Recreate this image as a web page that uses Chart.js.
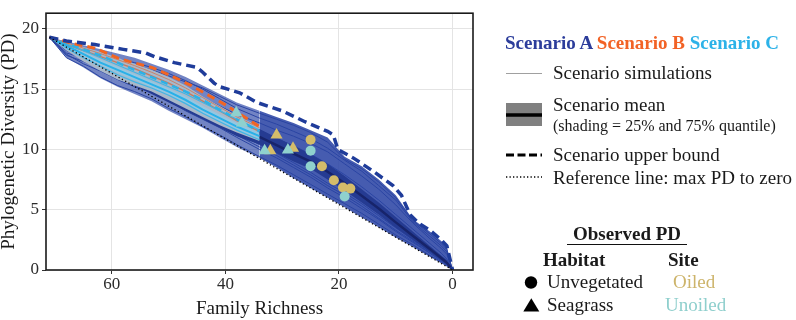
<!DOCTYPE html>
<html>
<head>
<meta charset="utf-8">
<script src="https://cdn.jsdelivr.net/npm/chart.js@4.4.0/dist/chart.umd.min.js"></script>
<style>
  body { margin: 0; background: #fff; }
  #wrap { position: relative; width: 796px; height: 320px; font-family: "Liberation Serif", "DejaVu Serif", serif; color: #1a1a1a; }
  #chart { position: absolute; left: 0; top: 0; }
  #keys { position: absolute; left: 0; top: 0; }
  .lg { position: absolute; font-size: 19px; line-height: 22px; white-space: nowrap; }
  .b { font-weight: bold; }
</style>
</head>
<body>
<div id="wrap">
  <canvas id="chart" width="480" height="320"></canvas>

  <svg id="keys" width="796" height="320">
    <line x1="506" y1="73.5" x2="542" y2="73.5" stroke="#a0a0a0" stroke-width="1"/>
    <rect x="506" y="103" width="36" height="23" fill="#808080"/>
    <line x1="506" y1="115" x2="542" y2="115" stroke="#000" stroke-width="3.5"/>
    <line x1="506" y1="155" x2="542" y2="155" stroke="#000" stroke-width="3" stroke-dasharray="8,3.5"/>
    <line x1="506" y1="177" x2="542" y2="177" stroke="#000" stroke-width="1.3" stroke-dasharray="1.3,2.2"/>
    <circle cx="531" cy="282.5" r="6.2" fill="#000"/>
    <polygon points="523.3,311.5 539.3,311.5 531.3,298.3" fill="#000"/>
  </svg>

  <div class="lg b" style="left:505px;top:32px">
    <span style="color:#2c3d9b">Scenario A</span> <span style="color:#f26225">Scenario B</span> <span style="color:#2cb2e8">Scenario C</span>
  </div>
  <div class="lg" style="left:553px;top:62px">Scenario simulations</div>
  <div class="lg" style="left:553px;top:94px">Scenario mean</div>
  <div class="lg" style="left:553px;top:115px;font-size:16px">(shading = 25% and 75% quantile)</div>
  <div class="lg" style="left:553px;top:144px">Scenario upper bound</div>
  <div class="lg" style="left:553px;top:167px">Reference line: max PD to zero</div>

  <div class="lg b" style="left:567px;top:224px;width:120px;height:20px;line-height:20px;text-align:center;border-bottom:1.5px solid #111">Observed PD</div>
  <div class="lg b" style="left:543px;top:249px">Habitat</div>
  <div class="lg b" style="left:668px;top:249px">Site</div>
  <div class="lg" style="left:547px;top:271px">Unvegetated</div>
  <div class="lg" style="left:673px;top:271px;color:#cdb46b">Oiled</div>
  <div class="lg" style="left:547px;top:294px">Seagrass</div>
  <div class="lg" style="left:665px;top:294px;color:#8fcfcd">Unoiled</div>
</div>

<script>
// family richness steps for the simulated curves
const richness = [71,68,65,62,59,56,53,50,47,44,41,38,34,31,28,25,22,19,16,13,10,7,4,2,1,0];
// scenarios B and C stop at 34 families
const richnessBC = richness.slice(0, 13);

// Scenario A
const simHiA = [19.3,18.95,18.65,18.3,17.95,17.6,17.1,16.6,16.0,15.3,14.6,13.9,13.2,12.7,12.2,11.6,11.0,9.4,8.6,7.5,6.2,4.2,3.2,2.4,1.9,0];
const simLoA = [19.3,17.6,16.8,15.9,15.2,14.6,14.0,13.2,12.5,11.8,11.0,10.2,9.3,8.5,7.6,6.8,6.0,5.2,4.35,3.55,2.7,1.9,1.1,0.55,0.3,0];
const q75A = [19.3,18.8,18.2,17.6,17.0,16.4,15.8,15.1,14.4,13.7,13.0,12.4,11.7,11.0,10.3,9.6,8.8,7.8,6.7,5.6,4.4,3.2,2.0,1.2,0.8,0];
const meanA = [19.3,18.5,17.8,17.1,16.5,15.8,15.2,14.5,13.8,13.1,12.4,11.75,11.05,10.35,9.65,9.0,8.15,7.2,6.15,5.1,3.95,2.85,1.75,1.0,0.6,0];
const q25A = [19.3,18.3,17.5,16.7,16.0,15.3,14.6,13.9,13.2,12.5,11.8,11.1,10.4,9.7,9.0,8.4,7.5,6.6,5.6,4.6,3.5,2.5,1.5,0.8,0.45,0];
const simsA = [
  [19.3,18.8,18.4,18.0,17.5,17.0,16.6,16.1,15.6,15.1,14.4,13.7,13.0,12.5,12.0,11.4,10.6,9.2,8.4,7.3,6.0,4.1,3.0,2.2,1.7,0],
  [19.3,18.6,18.1,17.6,17.0,16.5,16.0,15.4,14.8,14.3,13.6,12.9,12.2,11.6,11.1,10.5,9.8,8.8,7.8,6.7,5.4,3.9,2.6,1.8,1.3,0],
  [19.3,17.6,16.9,16.0,15.3,14.8,14.2,13.4,12.7,11.9,11.2,10.4,9.4,8.7,7.9,7.1,6.3,5.5,4.7,3.8,2.9,2.1,1.2,0.7,0.4,0],
  [19.3,18.2,17.5,16.8,16.3,15.6,15.0,14.4,13.7,13.0,12.2,11.4,10.4,9.7,8.9,8.1,7.2,6.4,5.5,4.5,3.5,2.5,1.5,0.9,0.5,0],
  [19.3,18.4,17.9,17.3,16.7,16.1,15.5,14.9,14.3,13.7,13.0,12.3,11.5,10.9,10.3,9.6,8.8,7.9,6.9,5.8,4.6,3.4,2.2,1.4,0.9,0],
  [19.3,17.9,17.1,16.5,15.8,15.2,14.7,14.0,13.2,12.5,11.8,11.0,10.0,9.3,8.5,7.7,6.8,6.0,5.1,4.2,3.2,2.3,1.4,0.8,0.5,0],
  [19.3,18.7,18.3,17.9,17.5,17.2,16.8,16.3,15.7,15.0,14.2,13.4,12.6,12.1,11.5,10.9,10.1,9.1,8.2,7.0,5.8,4.0,2.8,2.0,1.5,0],
  [19.3,18.0,17.6,17.1,16.5,15.9,15.2,14.6,14.0,13.4,12.7,11.9,11.0,10.4,9.8,9.1,8.3,7.3,6.3,5.2,4.0,2.9,1.8,1.1,0.7,0],
  [19.3,17.8,17.3,16.7,16.1,15.5,14.9,14.3,13.5,12.8,12.0,11.2,10.2,9.5,8.7,7.9,7.0,6.2,5.3,4.3,3.3,2.4,1.4,0.8,0.4,0]
];
const upperAx = [71,68,63,58,54,52.5,49,45,44,42,41,37.5,34.5,30,26,22,21,20.2,17.5,14,10.5,9,7.5,6,4,2,1,0];
const upperAy = [19.3,19.0,18.7,18.3,18.0,17.7,17.2,16.8,16.4,15.5,15.2,14.7,13.9,13.2,12.3,11.5,11.2,10.0,9.3,8.2,7.0,6.2,4.6,3.9,3.3,2.5,2.0,0];

// Scenarios B and C
const bandHiBC = [19.3,18.9,18.5,18.1,17.6,17.1,16.6,16.0,15.3,14.4,13.6,12.8,11.9];
const bandLoBC = [19.3,18.2,17.3,16.5,15.8,15.3,14.8,14.1,13.4,12.7,12.0,11.4,10.7];
const q75C = [19.3,18.7,18.1,17.45,16.85,16.25,15.65,15.05,14.4,13.6,12.9,12.2,11.4];
const q25C = [19.3,18.5,17.7,17.0,16.35,15.75,15.15,14.55,13.8,13.0,12.3,11.6,10.85];
const meanC = [19.3,18.6,17.9,17.2,16.6,16.0,15.4,14.8,14.1,13.3,12.6,11.9,11.1];
const simsC = [
  [19.3,18.75,18.2,17.6,17.0,16.4,15.8,15.2,14.6,13.9,13.2,12.5,11.6],
  [19.3,18.4,17.6,16.9,16.2,15.6,15.1,14.5,13.8,13.0,12.3,11.6,10.8]
];
const upperC = [19.3,18.8,18.3,17.8,17.2,16.6,16.0,15.4,14.8,14.1,13.3,12.5,11.5];
const meanB = [19.3,18.7,18.2,17.7,17.2,16.7,16.1,15.5,14.8,14.0,13.2,12.4,11.5];
const simsB = [
  [19.3,18.85,18.4,17.95,17.45,16.95,16.4,15.8,15.1,14.3,13.5,12.7,11.8]
];
const upperBx = [71,67,63,59,57,53,50,46,43,40,37,34];
const upperBy = [19.3,18.8,18.4,17.6,17.3,16.8,16.2,15.3,14.5,13.7,12.8,11.9];

// reference line: max PD to zero
const refX = [71, 0];
const refY = [19.3, 0];

// observed PD  [family richness, PD]
const oiledUnveg = [[25,10.8],[23,8.6],[20.9,7.45],[19.3,6.85],[18,6.75]];
const unoiledUnveg = [[25,9.9],[25,8.6],[19,6.1]];
const oiledSeagrass = [[32.1,9.9],[31,11.2],[28.1,10.1]];
const unoiledSeagrass = [[38.1,13.05],[37.1,12.2],[33.1,9.9],[29,9.95]];

const xTicks = [0, 20, 40, 60];
const yTicks = [0, 5, 10, 15, 20];

// helpers
const xy = (xs, ys) => xs.map((x, i) => ({x: x, y: ys[i]}));
const pairs = arr => arr.map(p => ({x: p[0], y: p[1]}));

let datasets = [];

function line(xs, ys, color, width, order, dash) {
  datasets.push({
    data: xy(xs, ys), borderColor: color, borderWidth: width,
    borderDash: dash || [], pointRadius: 0, fill: false, order: order
  });
}

function band(xs, lo, hi, color, order) {
  datasets.push({data: xy(xs, lo), borderColor: 'transparent', borderWidth: 0, pointRadius: 0, fill: false, order: order});
  datasets.push({data: xy(xs, hi), borderColor: 'transparent', borderWidth: 0, pointRadius: 0, fill: '-1', backgroundColor: color, order: order});
}

function points(arr, style, color, r, order) {
  datasets.push({
    data: pairs(arr), showLine: false, pointStyle: style, pointRadius: r,
    backgroundColor: color, borderWidth: 0, order: order
  });
}

// scenario A simulations (lighter where B and C sit on top)
band(richness.slice(0, 13), simLoA.slice(0, 13), simHiA.slice(0, 13), 'rgba(47,74,168,0.68)', 20);
band(richness.slice(12), simLoA.slice(12), simHiA.slice(12), 'rgba(44,70,165,0.88)', 20);
simsA.forEach(s => line(richness, s, '#2b45a3', 1, 18));
band(richness, q25A, q75A, '#253b92', 16);
line(richness, meanA, '#17246b', 2.5, 15);

// scenarios B and C
band(richnessBC, bandLoBC, bandHiBC, '#a9b8c9', 12);
band(richnessBC, q25C, q75C, 'rgba(140,205,235,0.7)', 11);
simsB.forEach(s => line(richnessBC, s, 'rgba(205,120,90,0.85)', 1, 10));
line(richnessBC, meanB, 'rgba(200,115,85,0.9)', 1.5, 10);
simsC.forEach(s => line(richnessBC, s, '#3fb5e6', 1.2, 9));
line(richnessBC, meanC, '#29b0e8', 2, 8);
line(richnessBC, upperC, '#2cb2e8', 2.5, 7, [7, 5]);

// upper bounds and reference
line(upperBx, upperBy, '#f26522', 3, 6, [8, 5]);
line(upperAx, upperAy, '#1f3c9a', 3.5, 5, [9, 5]);
line(refX, refY, '#000', 1.3, 4, [1.3, 2.5]);

// observed
points(oiledUnveg, 'circle', '#d4bc6a', 5, 3);
points(oiledSeagrass, 'triangle', '#d4bc6a', 7, 2);
points(unoiledSeagrass, 'triangle', '#8fd1ce', 7, 1);
points(unoiledUnveg, 'circle', '#8fd1ce', 5, 0);

const panelBorder = {
  id: 'panelBorder',
  afterDatasetsDraw(chart) {
    const a = chart.chartArea, ctx = chart.ctx;
    ctx.save();
    ctx.strokeStyle = '#1a1a1a';
    ctx.lineWidth = 1.6;
    ctx.strokeRect(a.left, a.top, a.right - a.left, a.bottom - a.top);
    ctx.restore();
  }
};

const serif = 'Liberation Serif';

new Chart(document.getElementById('chart'), {
  type: 'line',
  data: { datasets: datasets },
  plugins: [panelBorder],
  options: {
    responsive: false,
    animation: false,
    events: [],
    layout: { padding: { left: 0, right: 6, top: 4, bottom: 0 } },
    plugins: { legend: { display: false }, tooltip: { enabled: false } },
    scales: {
      x: {
        type: 'linear', reverse: true, min: -3.6, max: 71.6,
        afterBuildTicks: s => { s.ticks = xTicks.map(v => ({value: v})); },
        afterFit: s => { s.height = 50; },
        grid: { color: '#e4e4e4', lineWidth: 1, tickColor: '#333', tickLength: 4 },
        border: { display: false },
        ticks: { color: '#2b2b2b', font: { family: serif, size: 17 }, padding: 0, maxRotation: 0 },
        title: { display: true, text: 'Family Richness', color: '#1a1a1a', font: { family: serif, size: 19 }, padding: { top: 0, bottom: 0 } }
      },
      y: {
        min: 0, max: 21.3,
        afterBuildTicks: s => { s.ticks = yTicks.map(v => ({value: v})); },
        afterFit: s => { s.width = 46; },
        grid: { color: '#e4e4e4', lineWidth: 1, tickColor: '#333', tickLength: 4 },
        border: { display: false },
        ticks: { color: '#2b2b2b', font: { family: serif, size: 17 }, padding: 3 },
        title: { display: true, text: 'Phylogenetic Diversity (PD)', color: '#1a1a1a', font: { family: serif, size: 19, lineHeight: 1 }, padding: { top: 0, bottom: 0 } }
      }
    }
  }
});
</script>
</body>
</html>
